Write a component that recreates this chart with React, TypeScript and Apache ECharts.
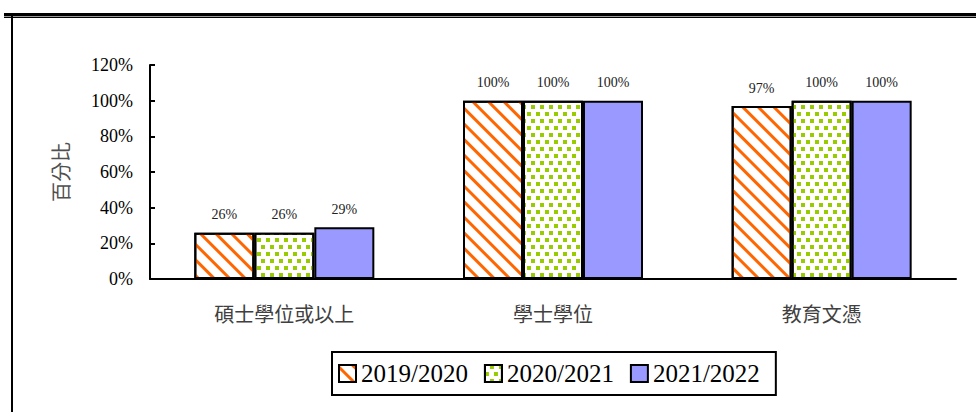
import React, { useEffect, useRef } from "react";
import * as echarts from "echarts";

const categories = ["碩士學位或以上", "學士學位", "教育文憑"];
const seriesNames = ["2019/2020", "2020/2021", "2021/2022"];
const values2019 = [26, 100, 97];
const values2020 = [26, 100, 100];
const values2021 = [29, 100, 100];
const yMin = 0;
const yMax = 120;
const yInterval = 20;

const SERIF = "Liberation Serif";
const CJK = "Noto Sans CJK TC";

export default function App() {
  const ref = useRef<HTMLDivElement>(null);
  useEffect(() => {
    if (!ref.current) return;
    const chart = echarts.init(ref.current, undefined, { renderer: "svg" });
    const label = {
      show: true,
      position: "top",
      distance: 11,
      formatter: "{c}%",
      fontFamily: SERIF,
      fontSize: 14,
      color: "#222",
    };
    const border = { borderColor: "#000", borderWidth: 2 };
    chart.setOption({
      animation: false,
      backgroundColor: "#fff",
      textStyle: { fontFamily: SERIF },
      grid: { left: 150, right: 20, top: 65, bottom: 133, containLabel: false },
      legend: {
        data: seriesNames,
        left: 332,
        top: 352,
        icon: "rect",
        itemWidth: 17,
        itemHeight: 17,
        itemGap: 16,
        padding: [9, 16, 9, 6],
        borderColor: "#000",
        borderWidth: 2,
        textStyle: { fontFamily: SERIF, fontSize: 25, color: "#000" },
      },
      xAxis: {
        type: "category",
        data: categories,
        axisLine: { lineStyle: { color: "#000", width: 2 } },
        axisTick: { inside: true, length: 6, lineStyle: { color: "#000", width: 2 } },
        axisLabel: { fontFamily: CJK, fontSize: 20, color: "#404040", margin: 24 },
      },
      yAxis: {
        type: "value",
        min: yMin,
        max: yMax,
        interval: yInterval,
        name: "百分比",
        nameLocation: "middle",
        nameGap: 80,
        nameRotate: 90,
        nameTextStyle: { fontFamily: CJK, fontSize: 20, color: "#505050" },
        axisLine: { show: true, lineStyle: { color: "#000", width: 2 } },
        axisTick: { show: true, inside: true, length: 5, lineStyle: { color: "#000", width: 2 } },
        splitLine: { show: false },
        axisLabel: { formatter: "{value}%", fontFamily: SERIF, fontSize: 18, color: "#000", margin: 17 },
      },
      series: [
        {
          name: seriesNames[0],
          type: "bar",
          data: values2019,
          barWidth: 60,
          barGap: "0%",
          label,
          itemStyle: {
            color: "#ffffff",
            ...border,
            decal: {
              symbol: "rect",
              symbolSize: 1,
              color: "#FF6600",
              dashArrayX: [1, 0],
              dashArrayY: [3, 8],
              rotation: Math.PI / 4,
            },
          },
        },
        {
          name: seriesNames[1],
          type: "bar",
          data: values2020,
          barWidth: 60,
          barGap: "0%",
          label,
          itemStyle: {
            color: "#ffffff",
            ...border,
            decal: {
              symbol: "rect",
              symbolSize: 1,
              color: "#99CC00",
              dashArrayX: [
                [4, 5],
                [0, 5, 4, 0],
              ],
              dashArrayY: [4, 3],
              rotation: 0,
            },
          },
        },
        {
          name: seriesNames[2],
          type: "bar",
          data: values2021,
          barWidth: 60,
          barGap: "0%",
          label,
          itemStyle: { color: "#9999FF", ...border },
        },
      ],
      graphic: [
        { type: "rect", shape: { x: 4, y: 13, width: 972, height: 3 }, style: { fill: "#000" }, silent: true },
        { type: "rect", shape: { x: 4, y: 16, width: 972, height: 1 }, style: { fill: "#999" }, silent: true },
        { type: "rect", shape: { x: 4, y: 17, width: 972, height: 1 }, style: { fill: "#000" }, silent: true },
        { type: "rect", shape: { x: 11, y: 13, width: 2, height: 399 }, style: { fill: "#000" }, silent: true },
      ],
    });
    return () => chart.dispose();
  }, []);
  return (
    <div
      ref={ref}
      style={{ position: "fixed", left: 0, top: 0, width: 976, height: 412, background: "#fff" }}
    />
  );
}
